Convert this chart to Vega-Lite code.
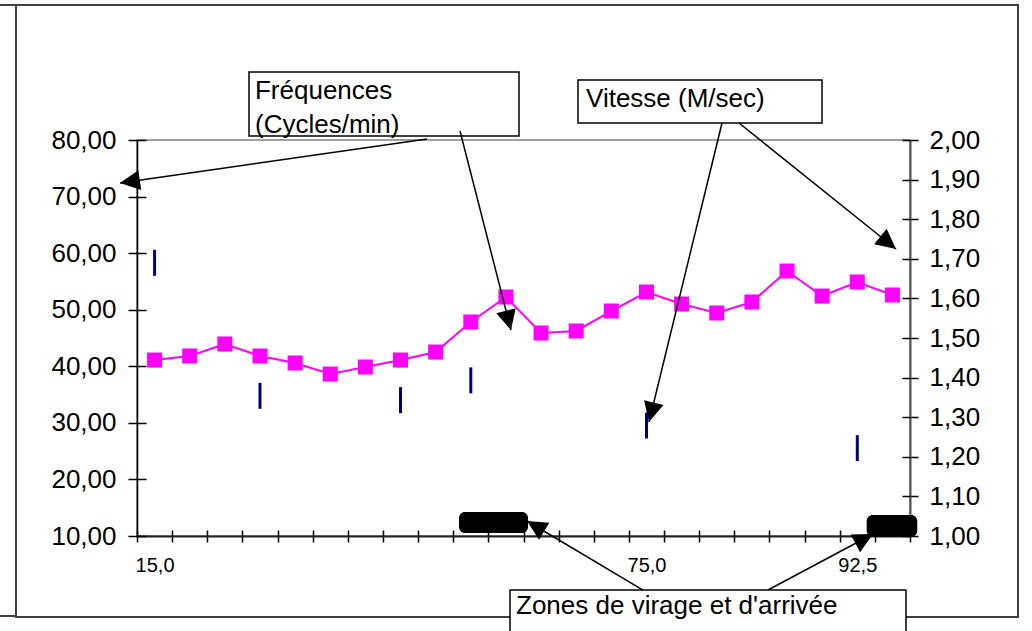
{
  "$schema": "https://vega.github.io/schema/vega-lite/v6.json",
  "width": 773,
  "height": 396,
  "autosize": {"type": "none"},
  "padding": {"left": 137, "top": 140, "right": 122, "bottom": 95},
  "background": "white",
  "config": {
    "view": {"stroke": "#808080", "strokeWidth": 1.5},
    "font": "Liberation Sans",
    "axis": {"labelFont": "Liberation Sans", "labelColor": "black", "tickColor": "black", "grid": false, "title": null}
  },
  "datasets": {
    "freq": [
      {"n": 1, "f": 41.11}, {"n": 2, "f": 41.82}, {"n": 3, "f": 43.94}, {"n": 4, "f": 41.82},
      {"n": 5, "f": 40.58}, {"n": 6, "f": 38.63}, {"n": 7, "f": 39.87}, {"n": 8, "f": 41.11},
      {"n": 9, "f": 42.52}, {"n": 10, "f": 47.83}, {"n": 11, "f": 52.25}, {"n": 12, "f": 45.88},
      {"n": 13, "f": 46.24}, {"n": 14, "f": 49.77}, {"n": 15, "f": 53.13}, {"n": 16, "f": 51.01},
      {"n": 17, "f": 49.42}, {"n": 18, "f": 51.36}, {"n": 19, "f": 56.84}, {"n": 20, "f": 52.42},
      {"n": 21, "f": 54.9}, {"n": 22, "f": 52.6}
    ],
    "speed": [
      {"n": 1, "v": 1.69}, {"n": 4, "v": 1.354}, {"n": 8, "v": 1.343},
      {"n": 10, "v": 1.393}, {"n": 15, "v": 1.279}, {"n": 21, "v": 1.222}
    ],
    "zones": [
      {"x": 9.164, "x2": 11.129, "y": 14.24, "y2": 10.53},
      {"x": 20.767, "x2": 22.207, "y": 13.71, "y2": 9.88}
    ],
    "boxes": [
      {"x": 3.188, "x2": 10.872, "y": 92.02, "y2": 80.71},
      {"x": 12.551, "x2": 19.496, "y": 90.61, "y2": 83.01},
      {"x": 10.616, "x2": 21.886, "y": 0.45, "y2": -9.27}
    ],
    "labels": [
      {"x": 3.358, "y": 87.25, "t": "Fréquences"},
      {"x": 3.358, "y": 81.24, "t": "(Cycles/min)"},
      {"x": 12.779, "y": 85.83, "t": "Vitesse (M/sec)"},
      {"x": 10.787, "y": -3.79, "t": "Zones de virage et d'arrivée"}
    ],
    "arrows": [
      {"x": 8.254, "y": 80.18, "x2": -0.484, "y2": 72.4},
      {"x": 9.193, "y": 81.59, "x2": 10.644, "y2": 46.41},
      {"x": 16.65, "y": 83.01, "x2": 14.572, "y2": 30.15},
      {"x": 17.133, "y": 83.01, "x2": 21.602, "y2": 60.73},
      {"x": 14.401, "y": 0.45, "x2": 11.1, "y2": 12.65},
      {"x": 17.959, "y": 0.45, "x2": 20.947, "y2": 10.35}
    ],
    "frame": [
      {"x": -3.444, "x2": 25.074, "y": 103.86, "y2": -4.32}
    ],
    "frameLines": [
      {"x": -3.899, "y": 103.86, "x2": -3.444, "y2": 103.86},
      {"x": -3.899, "y": -4.14, "x2": -3.444, "y2": -4.14}
    ]
  },
  "resolve": {"scale": {"x": "independent", "y": "independent"}},
  "layer": [
    {
      "data": {"name": "frame"},
      "mark": {"type": "rect", "fill": null, "fillOpacity": 0, "stroke": "#404040", "strokeWidth": 2},
      "encoding": {
        "x": {"field": "x", "type": "quantitative", "scale": {"domain": [0, 22], "nice": false, "zero": false},
          "axis": {"orient": "bottom", "values": [0,1,2,3,4,5,6,7,8,9,10,11,12,13,14,15,16,17,18,19,20,21,22], "ticks": true, "tickSize": 6, "tickWidth": 1.5, "tickColor": "black", "domain": false, "labels": false}},
        "x2": {"field": "x2"},
        "y": {"field": "y", "type": "quantitative", "scale": {"domain": [10, 80], "nice": false, "zero": false}, "axis": null},
        "y2": {"field": "y2"}
      }
    },
    {
      "data": {"name": "frameLines"},
      "mark": {"type": "rule", "color": "#404040", "strokeWidth": 2},
      "encoding": {
        "x": {"field": "x", "type": "quantitative", "scale": {"domain": [0, 22], "nice": false, "zero": false},
          "axis": {"orient": "bottom", "values": [0,1,2,3,4,5,6,7,8,9,10,11,12,13,14,15,16,17,18,19,20,21,22], "ticks": true, "tickSize": -6, "tickWidth": 1.5, "tickColor": "black", "domain": false, "labels": false}},
        "x2": {"field": "x2"},
        "y": {"field": "y", "type": "quantitative", "scale": {"domain": [10, 80], "nice": false, "zero": false}, "axis": null},
        "y2": {"field": "y2"}
      }
    },
    {
      "data": {"name": "freq"},
      "mark": {"type": "line", "color": "#FF00FF", "strokeWidth": 2},
      "encoding": {
        "x": {
          "field": "n", "type": "ordinal",
          "scale": {"domain": [1,2,3,4,5,6,7,8,9,10,11,12,13,14,15,16,17,18,19,20,21,22], "paddingInner": 0, "paddingOuter": 0},
          "axis": {
            "orient": "bottom", "ticks": false,
            "domainColor": "#202020", "domainWidth": 2,
            "labelAngle": 0, "labelFontSize": 20, "labelPadding": 19, "labelOverlap": false,
            "labelExpr": "datum.value == 1 ? '15,0' : datum.value == 15 ? '75,0' : datum.value == 21 ? '92,5' : ''"
          }
        },
        "y": {
          "field": "f", "type": "quantitative",
          "scale": {"domain": [10, 80], "nice": false, "zero": false},
          "axis": {
            "orient": "left", "values": [10,20,30,40,50,60,70,80], "tickSize": 9, "tickWidth": 1.5,
            "domainColor": "black", "domainWidth": 1.5,
            "labelFontSize": 26, "labelPadding": 12,
            "labelExpr": "replace(format(datum.value, '.2f'), '.', ',')"
          }
        }
      }
    },
    {
      "data": {"name": "freq"},
      "mark": {"type": "point", "shape": "square", "filled": true, "size": 225, "color": "#FF00FF", "opacity": 1},
      "encoding": {
        "x": {
          "field": "n", "type": "ordinal",
          "scale": {"domain": [1,2,3,4,5,6,7,8,9,10,11,12,13,14,15,16,17,18,19,20,21,22], "paddingInner": 0, "paddingOuter": 0},
          "axis": null
        },
        "y": {
          "field": "f", "type": "quantitative",
          "scale": {"domain": [10, 80], "nice": false, "zero": false},
          "axis": {"orient": "left", "values": [10,20,30,40,50,60,70,80], "tickSize": -9, "tickWidth": 1.5, "domain": false, "labels": false}
        }
      }
    },
    {
      "data": {"name": "speed"},
      "mark": {"type": "tick", "orient": "vertical", "color": "#000080", "thickness": 3, "size": 26, "opacity": 1},
      "encoding": {
        "x": {
          "field": "n", "type": "ordinal",
          "scale": {"domain": [1,2,3,4,5,6,7,8,9,10,11,12,13,14,15,16,17,18,19,20,21,22], "paddingInner": 0, "paddingOuter": 0},
          "axis": null
        },
        "y": {
          "field": "v", "type": "quantitative",
          "scale": {"domain": [1, 2], "nice": false, "zero": false},
          "axis": {
            "orient": "right", "values": [1,1.1,1.2,1.3,1.4,1.5,1.6,1.7,1.8,1.9,2], "tickSize": 8, "tickWidth": 1.5,
            "domainColor": "#505050", "domainWidth": 2,
            "labelFontSize": 26, "labelPadding": 11,
            "labelExpr": "replace(format(datum.value, '.2f'), '.', ',')"
          }
        }
      }
    },
    {
      "data": {"name": "speed"},
      "mark": {"type": "tick", "orient": "vertical", "opacity": 0},
      "encoding": {
        "x": {
          "field": "n", "type": "ordinal",
          "scale": {"domain": [1,2,3,4,5,6,7,8,9,10,11,12,13,14,15,16,17,18,19,20,21,22], "paddingInner": 0, "paddingOuter": 0},
          "axis": null
        },
        "y": {
          "field": "v", "type": "quantitative",
          "scale": {"domain": [1, 2], "nice": false, "zero": false},
          "axis": {"orient": "right", "values": [1,1.1,1.2,1.3,1.4,1.5,1.6,1.7,1.8,1.9,2], "tickSize": -8, "tickWidth": 1.5, "domain": false, "labels": false}
        }
      }
    },
    {
      "data": {"name": "zones"},
      "mark": {"type": "rect", "color": "black", "cornerRadius": 6},
      "encoding": {
        "x": {"field": "x", "type": "quantitative", "scale": {"domain": [0, 22], "nice": false, "zero": false}, "axis": null},
        "x2": {"field": "x2"},
        "y": {"field": "y", "type": "quantitative", "scale": {"domain": [10, 80], "nice": false, "zero": false}, "axis": null},
        "y2": {"field": "y2"}
      }
    },
    {
      "data": {"name": "boxes"},
      "mark": {"type": "rect", "fill": "white", "stroke": "black", "strokeWidth": 1.5},
      "encoding": {
        "x": {"field": "x", "type": "quantitative", "scale": {"domain": [0, 22], "nice": false, "zero": false}, "axis": null},
        "x2": {"field": "x2"},
        "y": {"field": "y", "type": "quantitative", "scale": {"domain": [10, 80], "nice": false, "zero": false}, "axis": null},
        "y2": {"field": "y2"}
      }
    },
    {
      "data": {"name": "labels"},
      "mark": {"type": "text", "align": "left", "baseline": "alphabetic", "fontSize": 26, "font": "Liberation Sans", "color": "black"},
      "encoding": {
        "x": {"field": "x", "type": "quantitative", "scale": {"domain": [0, 22], "nice": false, "zero": false}, "axis": null},
        "y": {"field": "y", "type": "quantitative", "scale": {"domain": [10, 80], "nice": false, "zero": false}, "axis": null},
        "text": {"field": "t"}
      }
    },
    {
      "data": {"name": "arrows"},
      "mark": {"type": "rule", "color": "black", "strokeWidth": 1.5},
      "encoding": {
        "x": {"field": "x", "type": "quantitative", "scale": {"domain": [0, 22], "nice": false, "zero": false}, "axis": null},
        "x2": {"field": "x2"},
        "y": {"field": "y", "type": "quantitative", "scale": {"domain": [10, 80], "nice": false, "zero": false}, "axis": null},
        "y2": {"field": "y2"}
      }
    },
    {
      "data": {"name": "arrows"},
      "transform": [
        {"calculate": "atan2((datum.x2 - datum.x) * 35.136, (datum.y2 - datum.y) * 5.657) * 180 / PI", "as": "a"}
      ],
      "mark": {"type": "point", "shape": "M0,0L0.5,1L-0.5,1Z", "filled": true, "size": 1600, "color": "black", "opacity": 1},
      "encoding": {
        "x": {"field": "x2", "type": "quantitative", "scale": {"domain": [0, 22], "nice": false, "zero": false}, "axis": null},
        "y": {"field": "y2", "type": "quantitative", "scale": {"domain": [10, 80], "nice": false, "zero": false}, "axis": null},
        "angle": {"field": "a", "type": "quantitative", "scale": null}
      }
    }
  ]
}
